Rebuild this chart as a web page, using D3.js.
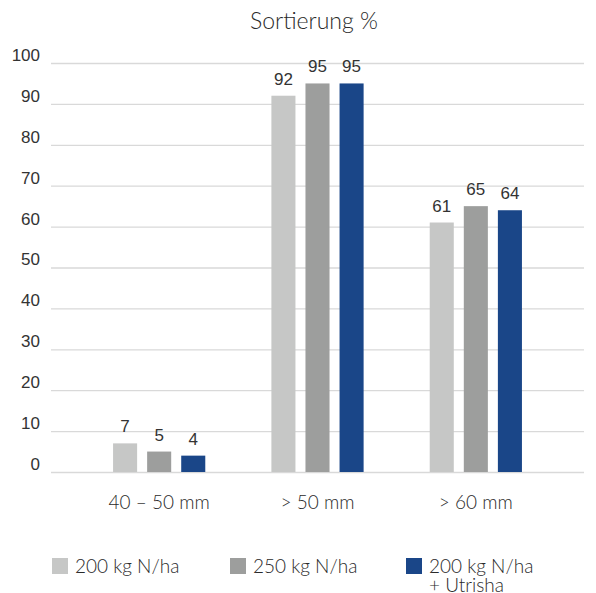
<!DOCTYPE html>
<html>
<head>
<meta charset="utf-8">
<script src="https://cdn.jsdelivr.net/npm/d3@7"></script>
<style>
  html, body { margin: 0; padding: 0; background: #fff; }
  svg { display: block; }
</style>
</head>
<body>
<svg id="chart" width="596" height="593"></svg>
<script>
// Sortierung data (percent per size class)
const categories = ["40 – 50 mm", "> 50 mm", "> 60 mm"];
const seriesNames = ["200 kg N/ha", "250 kg N/ha", "200 kg N/ha\n+ Utrisha"];
const series200 = [7, 92, 61];
const series250 = [5, 95, 65];
const series200Utrisha = [4, 95, 64];
const yTicks = [0, 10, 20, 30, 40, 50, 60, 70, 80, 90, 100];
const colors = ["#c6c7c6", "#9d9e9d", "#1a4688"];

const seriesValues = [series200, series250, series200Utrisha];

const svg = d3.select("#chart");
const labelFont = "'Liberation Sans', Arial, sans-serif";
const textFont = "Lato, 'Open Sans', sans-serif";

const y = d3.scaleLinear().domain([0, 100]).range([472, 63]);
const x0 = d3.scaleBand().domain(categories).range([80, 555]);
const x1 = d3.scaleBand().domain(d3.range(seriesNames.length))
  .range([0, x0.bandwidth()]).paddingInner(0.294).paddingOuter(0.97);

// Title
svg.append("text")
  .attr("x", 314).attr("y", 29)
  .attr("text-anchor", "middle")
  .attr("font-family", textFont)
  .attr("font-weight", 300)
  .attr("font-size", 23)
  .attr("fill", "#2a2a2a")
  .text("Sortierung %");

// Gridlines and y tick labels
const yAxis = d3.axisLeft(y).tickValues(yTicks).tickSize(-(584 - 51)).tickPadding(11);
const gy = svg.append("g").attr("transform", "translate(51,0)").call(yAxis);
gy.attr("font-family", labelFont).attr("font-size", 17);
gy.select(".domain").remove();
gy.selectAll(".tick line").attr("stroke", "#d9d9d9").attr("stroke-width", 1.3);
gy.selectAll(".tick text")
  .attr("font-family", labelFont)
  .attr("font-size", 17)
  .attr("fill", "#333")
  .attr("dy", "-0.15em");

// Bars
const groups = svg.append("g").selectAll("g")
  .data(categories)
  .join("g")
  .attr("transform", d => `translate(${x0(d)},0)`);

groups.selectAll("rect")
  .data((d, i) => seriesValues.map((s, k) => ({ k, v: s[i] })))
  .join("rect")
  .attr("x", d => x1(d.k))
  .attr("width", x1.bandwidth())
  .attr("y", d => y(d.v))
  .attr("height", d => y(0) - y(d.v))
  .attr("fill", d => colors[d.k]);

// Value labels
groups.selectAll("text.val")
  .data((d, i) => seriesValues.map((s, k) => ({ k, v: s[i] })))
  .join("text")
  .attr("class", "val")
  .attr("x", d => x1(d.k) + x1.bandwidth() / 2)
  .attr("y", d => y(d.v) - 11)
  .attr("text-anchor", "middle")
  .attr("font-family", labelFont)
  .attr("font-size", 17)
  .attr("fill", "#333")
  .text(d => d.v);

// Category labels
const xAxis = d3.axisBottom(x0).tickSize(0).tickPadding(0);
const gx = svg.append("g").attr("transform", "translate(0,509)").call(xAxis);
gx.select(".domain").remove();
gx.selectAll(".tick text")
  .attr("font-family", textFont)
  .attr("font-weight", 300)
  .attr("font-size", 19)
  .attr("fill", "#2a2a2a")
  .attr("dy", 0);

// Legend
const legendX = [52, 230, 406];
const legend = svg.append("g").selectAll("g")
  .data(seriesNames)
  .join("g")
  .attr("transform", (d, i) => `translate(${legendX[i]},558)`);

legend.append("rect")
  .attr("width", 16).attr("height", 16)
  .attr("fill", (d, i) => colors[i]);

legend.append("text")
  .attr("x", 23).attr("y", 15)
  .attr("font-family", textFont)
  .attr("font-weight", 300)
  .attr("font-size", 19)
  .attr("fill", "#2a2a2a")
  .selectAll("tspan")
  .data(d => d.split("\n"))
  .join("tspan")
  .attr("x", 23)
  .attr("dy", (d, i) => i === 0 ? 0 : 19)
  .text(d => d);
</script>
</body>
</html>
